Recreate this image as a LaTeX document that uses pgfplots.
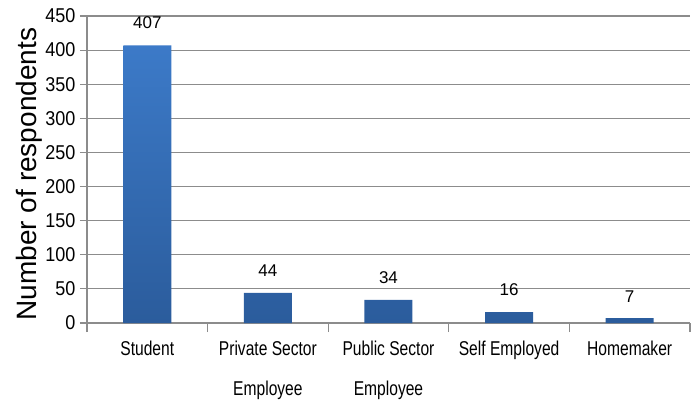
\documentclass[border=0pt]{standalone}
\usepackage{fontspec}
\setmainfont{Liberation Sans}
\newfontfamily\xlabfont[FakeStretch=0.78]{Liberation Sans}
\newfontfamily\tickfont[FakeStretch=0.9]{Liberation Sans}
\usepackage{pgfplots}
\pgfplotsset{compat=1.18}
\definecolor{gridgray}{HTML}{8C8C8C}
\definecolor{bartop}{HTML}{3C7AC8}
\definecolor{barbot}{HTML}{2B5C9C}
\begin{document}
\begin{tikzpicture}
\begin{axis}[
  scale only axis,
  width=603pt, height=307pt,
  xmin=-0.5, xmax=4.5,
  ymin=0, ymax=450,
  ytick={0,50,...,450},
  xtick={0,1,2,3,4},
  xticklabels={Student, Private Sector\\Employee, Public Sector\\Employee, Self Employed, Homemaker},
  minor xtick={-0.5,0.5,...,4.5},
  major x tick style={draw=none},
  minor tick length=9pt,
  major tick length=7pt,
  tick align=outside,
  tick style={gridgray, line width=1.2pt},
  axis x line*=bottom,
  axis y line*=left,
  axis line style={gridgray, line width=1.3pt, -},
  ymajorgrids,
  grid style={gridgray, line width=1.2pt},
  /pgf/number format/assume math mode=true,
  yticklabel style={font=\tickfont\fontsize{20}{20}\selectfont, xshift=-1pt},
  xticklabel style={font=\xlabfont\fontsize{20}{40}\selectfont, align=center, anchor=north, yshift=-7pt},
  ylabel={Number of respondents},
  ylabel style={font=\fontsize{28}{28}\selectfont, at={(ticklabel cs:0.485)}, yshift=-4pt},
  ybar, bar width=48pt, bar shift=0pt,
  nodes near coords,
  nodes near coords style={font=\fontsize{17}{17}\selectfont, anchor=south, inner sep=0pt, yshift=16pt},
]
\addplot[draw=none, top color=bartop, bottom color=barbot] coordinates {(0,407) (1,44) (2,34) (3,16) (4,7)};
\end{axis}
\pgfresetboundingbox
\path (current axis.south west) ++(-87pt,-82pt) rectangle ++(697pt,405pt);
\end{tikzpicture}
\end{document}
